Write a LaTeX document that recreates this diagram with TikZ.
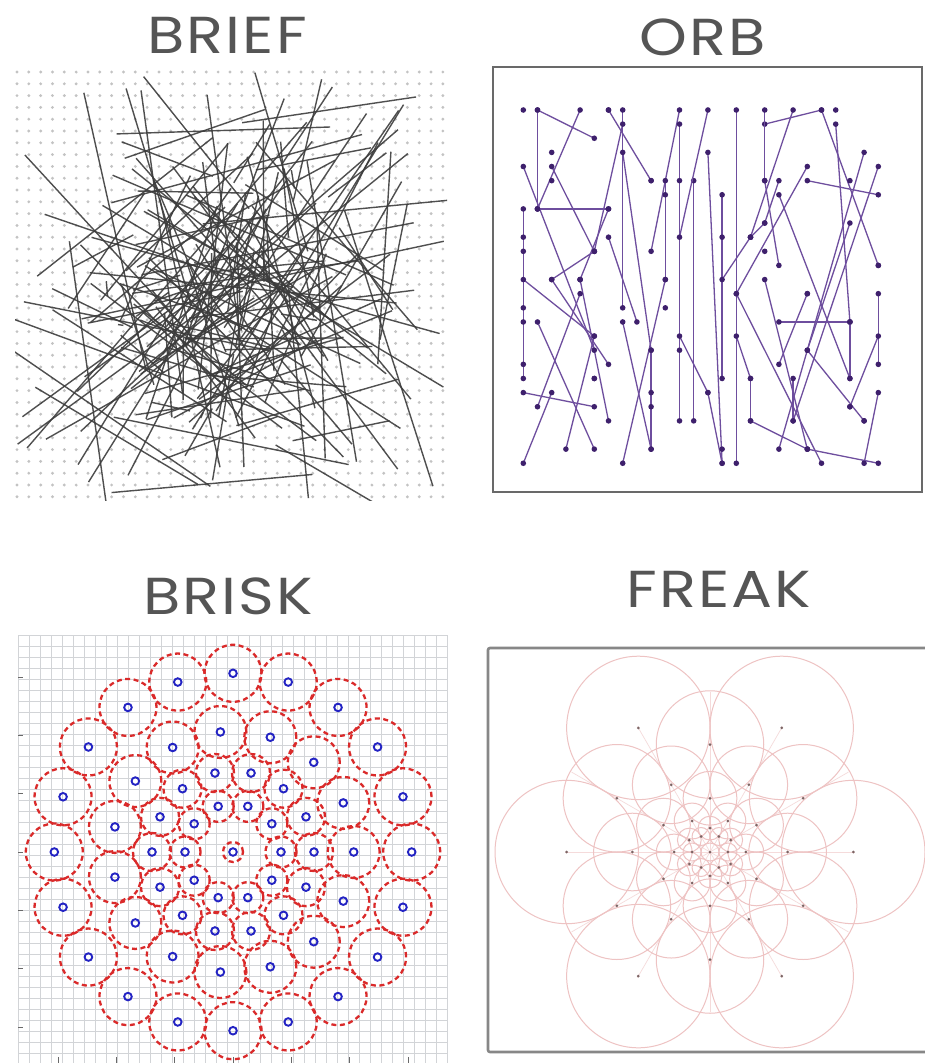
\documentclass[tikz,border=0pt]{standalone}
\usepackage{fontspec}
\newfontfamily\titlefont[FakeStretch=1.17, LetterSpace=4]{Poppins}
\usetikzlibrary{calc}

\definecolor{titlegray}{RGB}{85,85,85}
\definecolor{dotgray}{RGB}{195,195,195}
\definecolor{brieflinecol}{RGB}{60,60,60}
\definecolor{orblinecol}{RGB}{110,78,158}
\definecolor{orbdotcol}{RGB}{62,32,108}
\definecolor{briskred}{RGB}{218,42,42}
\definecolor{briskblue}{RGB}{35,35,195}
\definecolor{gridgray}{RGB}{210,212,215}
\definecolor{freakpink}{RGB}{238,195,195}
\definecolor{freakdotcol}{RGB}{125,100,100}
\definecolor{boxgray}{RGB}{105,105,105}

\begin{document}
\begin{tikzpicture}[x=1pt,y=-1pt,
    title/.style={font=\titlefont\fontsize{52}{52}\selectfont, text=titlegray, inner sep=0},
    briefline/.style={brieflinecol, line width=1.4, opacity=0.9},
    orbline/.style={orblinecol, line width=1.3},
    orbdot/.style={fill=orbdotcol},
    briskcirc/.style={briskred, line width=2.3, dash pattern=on 5pt off 3.5pt},
    briskpt/.style={briskblue, line width=1.9},
    freakcirc/.style={freakpink, line width=1},
    freakspoke/.style={freakpink!60, line width=0.7},
    panelbox/.style={boxgray, line width=2.2}]

  \useasboundingbox (0,0) rectangle (925,1063);
  \fill[white] (0,0) rectangle (925,1063);

  \node[title] (tBrief) at (227,35) {BRIEF};
  \node[title] (tOrb) at (703,37) {ORB};
  \node[title] (tBrisk) at (228,596) {BRISK};
  \node[title] (tFreak) at (719,589) {FREAK};

  % BRIEF
  \foreach \i in {0,...,36}
    \foreach \j in {0,...,36}
      \fill[dotgray] ({17+11.83*\i},{72+11.8*\j}) circle (1.6pt);
  \pgfmathsetseed{4242}
  \begin{scope}
    \clip (15,68) rectangle (447,500);
    \foreach \k in {1,...,175}{
      \pgfmathsetmacro\xa{232+120*(rand+rand)}
      \pgfmathsetmacro\ya{290+120*(rand+rand)}
      \pgfmathsetmacro\xb{232+120*(rand+rand)}
      \pgfmathsetmacro\yb{290+120*(rand+rand)}
      \draw[briefline] (\xa,\ya) -- (\xb,\yb);
    }
  \end{scope}

  % ORB
  \draw[panelbox] (493,67) rectangle (922,492);
  \foreach \i in {0,...,25}
    \foreach \j in {0,...,25}
      \coordinate (o\i-\j) at ({523.3+14.2*\i},{110+14.13*\j});
  \foreach \a/\b/\c/\d in {1/0/5/2, 1/0/1/7, 4/0/1/7, 6/0/9/5, 7/0/7/14, 7/1/5/10,
      7/3/9/17, 11/0/9/10, 11/1/11/22, 12/5/12/22, 10/5/10/12, 7/25/10/12,
      13/0/11/9, 13/3/14/25, 14/6/14/19, 15/0/15/25, 17/1/21/0, 17/0/17/5,
      17/5/18/11, 19/0/16/9, 21/0/25/11, 22/1/23/15, 20/4/15/13, 20/5/25/6,
      24/3/18/24, 25/4/19/22, 18/6/23/19, 18/5/17/8, 17/8/16/9, 16/9/14/12,
      15/13/21/25, 15/16/16/19, 16/19/16/22, 16/22/20/24, 20/24/25/25,
      18/15/23/15, 25/13/25/18, 20/13/18/18, 20/17/24/22, 25/20/24/25,
      25/16/23/21, 23/15/23/19, 19/19/19/22, 23/8/20/17, 17/12/20/24,
      13/20/14/25, 0/20/5/21, 2/20/0/25, 3/24/5/16, 5/24/1/15, 9/24/9/17,
      6/22/4/12, 0/4/5/17, 2/4/5/10, 1/7/6/7, 6/7/4/12, 5/10/2/12, 0/7/0/19,
      0/12/5/16, 2/12/6/18, 4/13/1/21, 7/15/9/24, 8/15/6/9, 13/20/11/16}{
    \draw[orbline] (o\a-\b) -- (o\c-\d);
    \fill[orbdot] (o\a-\b) circle (2.8pt);
    \fill[orbdot] (o\c-\d) circle (2.8pt);
  }
  \foreach \a/\b in {0/0, 0/9, 0/10, 0/14, 0/15, 0/18, 2/3, 2/5, 5/19, 6/0,
      9/5, 10/6, 10/14, 11/5, 11/17, 14/9, 14/24, 17/10, 20/13, 22/0,
      23/5, 23/21, 24/22, 25/11, 9/20, 9/21, 5/19, 4/12}
    \fill[orbdot] (o\a-\b) circle (2.8pt);

  % BRISK
  \foreach \x in {18,29,...,447}
    \draw[gridgray, line width=0.6] (\x,635) -- (\x,1063);
  \foreach \y in {635,646,...,1063}
    \draw[gridgray, line width=0.6] (18,\y) -- (447,\y);
  \foreach \t in {-3,...,3}{
    \draw[boxgray, line width=0.8] (18,{852+58.3*\t}) -- (23,{852+58.3*\t});
    \draw[boxgray, line width=0.8] ({233+58.3*\t},1063) -- ({233+58.3*\t},1057);
  }
  \begin{scope}[shift={(233,852)}]
    \draw[briskcirc] (0,0) circle [radius=10pt];
    \foreach \r/\n/\s in {48/10/15.5, 81/14/19, 120.7/15/26, 178.7/20/28.5}
      \foreach \k in {1,...,\n}
        \draw[briskcirc] ({360/\n*\k}:\r) circle [radius={\s*1pt}];
    \draw[briskpt] (0,0) circle [radius=3.8pt];
    \foreach \r/\n in {48/10, 81/14, 120.7/15, 178.7/20}
      \foreach \k in {1,...,\n}
        \draw[briskpt] ({360/\n*\k}:\r) circle [radius=3.8pt];
  \end{scope}

  % FREAK
  \draw[panelbox, boxgray!80, line width=2.6, rounded corners=2] (488,648) rectangle (935,1052);
  \begin{scope}[shift={(710,852)}]
    \foreach \a in {0,60,...,300}
      \draw[freakspoke] (0,0) -- (\a:145);
    \foreach \a in {30,90,...,330}
      \draw[freakspoke] (0,0) -- (\a:160);
    \draw[freakcirc] (0,0) circle [radius=9pt];
    \foreach \r/\s/\b in {143.3/71.7/0, 107.5/53.75/30, 77.6/38.8/0, 53.75/26.9/30,
        35.8/17.9/0, 23.9/11.9/30, 17.9/9/0}
      \foreach \k in {0,...,5}{
        \draw[freakcirc] ({\b+60*\k}:\r) circle [radius={\s*1pt}];
        \fill[freakdotcol] ({\b+60*\k}:\r) circle (1.5pt);
      }
    \fill[freakdotcol] (0,0) circle (1.5pt);
  \end{scope}
\end{tikzpicture}
\end{document}
